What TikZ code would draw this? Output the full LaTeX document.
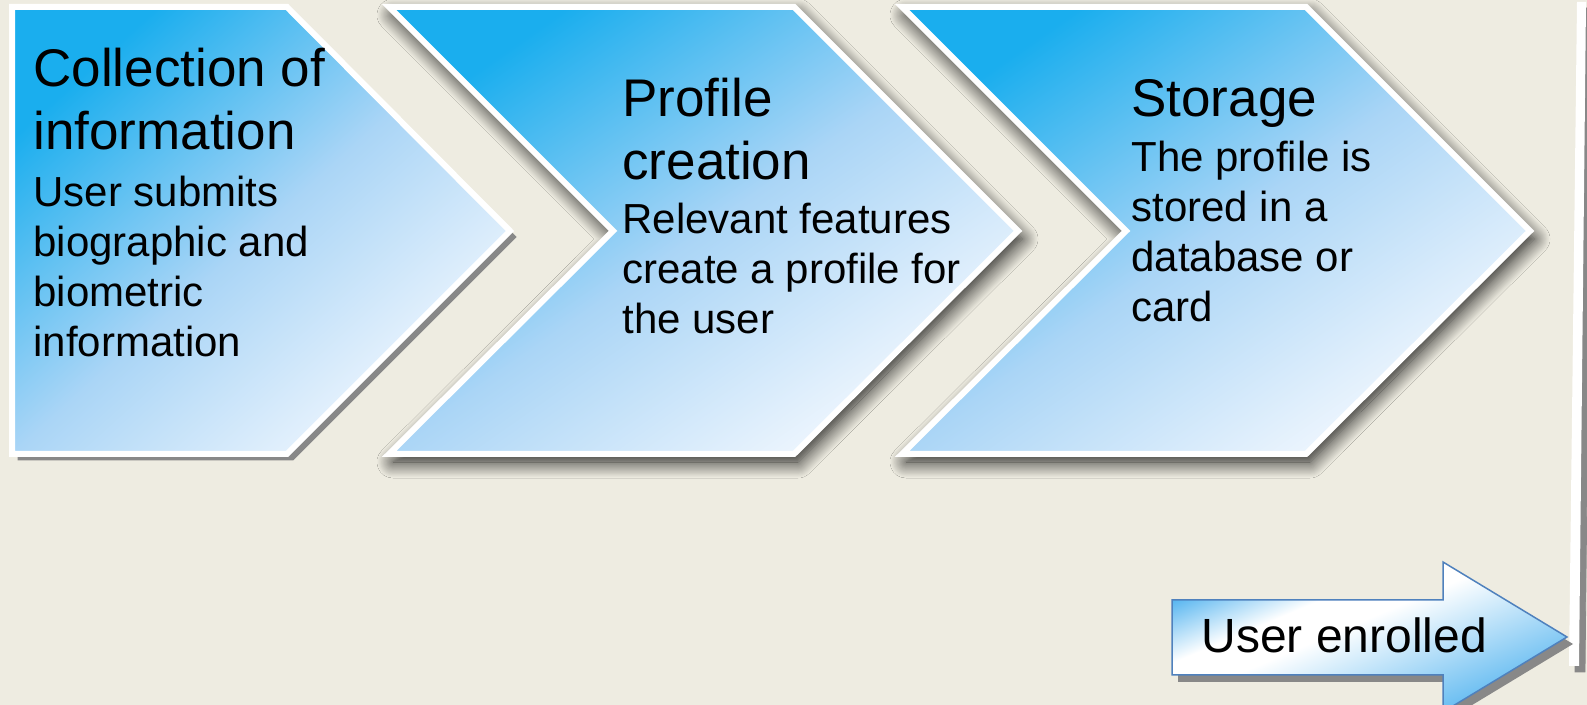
\documentclass[tikz,border=0pt]{standalone}
\usepackage{fontspec}
\setmainfont{Liberation Sans}
\definecolor{slidebg}{RGB}{238, 236, 225}
\definecolor{chevtop}{RGB}{26, 174, 238}
\definecolor{chevmid}{RGB}{170, 213, 246}
\definecolor{chevlow}{RGB}{243, 248, 254}
\definecolor{arrowblue}{RGB}{88, 182, 240}
\definecolor{arrowline}{RGB}{79, 129, 189}
\definecolor{hardshadow}{RGB}{136, 136, 136}
\usetikzlibrary{shadows, shadows.blur}
\pgfdeclareverticalshading{enrolfill}{100bp}{color(0bp)=(arrowblue); color(25bp)=(arrowblue);
  color(54bp)=(white); color(62bp)=(white); color(75bp)=(arrowblue); color(100bp)=(arrowblue)}

\begin{document}
\begin{tikzpicture}[x=0.5pt, y=-0.5pt,
  stepshape/.style={shade, top color=chevtop, bottom color=chevlow, middle color=chevmid,
    shading angle=#1, draw=white, line width=3pt, line join=miter},
  softshadow/.style={blur shadow={shadow xshift=2pt, shadow yshift=-4pt,
    shadow blur radius=8pt, shadow blur steps=20, shadow opacity=90}},
  hardshade/.style={drop shadow={draw=hardshadow, fill=hardshadow, opacity=1,
    shadow xshift=3pt, shadow yshift=-3pt}},
  enrolarrow/.style={shading=enrolfill, shading angle=23, draw=arrowline, line width=0.75pt,
    drop shadow={fill=hardshadow, opacity=1, shadow xshift=3pt, shadow yshift=-3.5pt}},
  titletext/.style={font=\fontsize{26.5}{31.5}\selectfont, align=left, anchor=base west, inner sep=0pt},
  bodytext/.style={font=\fontsize{21}{25}\selectfont, align=left, anchor=base west, inner sep=0pt}]

  % Slide background
  \useasboundingbox (0,0) rectangle (1587,705);
  \fill[slidebg] (0,0) rectangle (1587,705);

  % Edge of the next frame (right)
  \path[fill=white, hardshade] (1577,2) -- (1586,2) -- (1579,666) -- (1569,666) -- cycle;

  % Step 1: pentagon
  \path[stepshape=42, hardshade] (12,7) -- (287,7) -- (510,231) -- (287,454) -- (12,454) -- cycle;
  \node[titletext] (collect) at (33,150) {Collection of\\information};
  \node[bodytext] (collectbody) at (33,357) {User submits\\biographic and\\biometric\\information};

  % Step 2: chevron
  \path[stepshape=35, softshadow] (389,7) -- (794,7) -- (1018,231) -- (794,454) -- (389,454) -- (613,231) -- cycle;
  \node[titletext] (profile) at (622,180) {Profile\\creation};
  \node[bodytext] (profilebody) at (622,334) {Relevant features\\create a profile for\\the user};

  % Step 3: chevron
  \path[stepshape=35, softshadow] (902,7) -- (1306,7) -- (1530,231) -- (1306,454) -- (902,454) -- (1126,231) -- cycle;
  \node[titletext] (storage) at (1131,117) {Storage};
  \node[bodytext] (storagebody) at (1131,322) {The profile is\\stored in a\\database or\\card};

  % Result arrow
  \path[enrolarrow] (1172,600) -- (1443,600) -- (1443,562) -- (1567,637) -- (1443,712) -- (1443,675) -- (1172,675) -- cycle;
  \node[font=\fontsize{24}{28}\selectfont, anchor=base west, inner sep=0pt] (enrolled) at (1201,653) {User enrolled};
\end{tikzpicture}
\end{document}
